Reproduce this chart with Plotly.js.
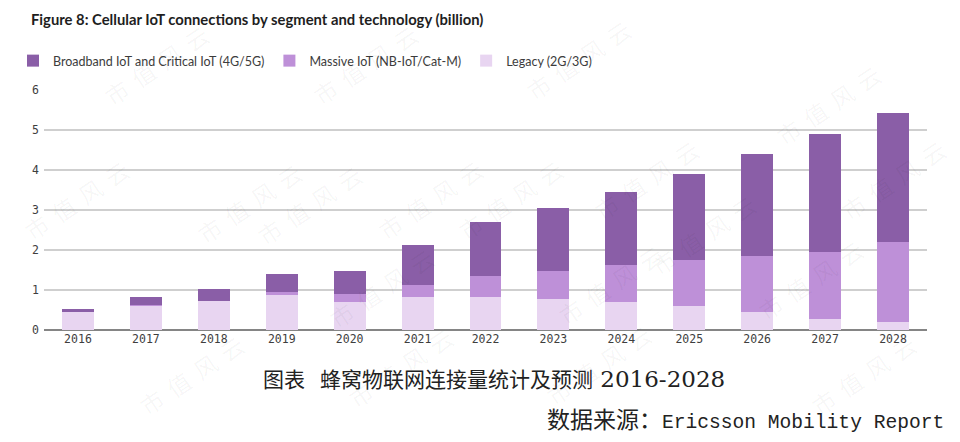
<!DOCTYPE html>
<html>
<head>
<meta charset="utf-8">
<script src="https://cdn.plot.ly/plotly-3.0.1.min.js"></script>
<style>
  html, body { margin: 0; padding: 0; background: #ffffff; }
  #chart { width: 960px; height: 442px; }
</style>
</head>
<body>
<div id="chart"></div>
<script>
// ---- Data (billion connections) ----
const years = ['2016','2017','2018','2019','2020','2021','2022','2023','2024','2025','2026','2027','2028'];
const legacy = [0.44, 0.61, 0.72, 0.88, 0.69, 0.82, 0.83, 0.78, 0.70, 0.59, 0.44, 0.28, 0.20];
const massiveIoT = [0.01, 0.01, 0.01, 0.06, 0.21, 0.31, 0.51, 0.70, 0.93, 1.15, 1.41, 1.68, 2.00];
const broadbandCritical = [0.08, 0.21, 0.30, 0.46, 0.58, 0.99, 1.37, 1.58, 1.82, 2.17, 2.54, 2.94, 3.23];
const seriesNames = ['Legacy (2G/3G)', 'Massive IoT (NB-IoT/Cat-M)', 'Broadband IoT and Critical IoT (4G/5G)'];
const yTicks = [0, 1, 2, 3, 4, 5, 6];
const chartTitle = 'Figure 8: Cellular IoT connections by segment and technology (billion)';
const captionLead = '图表';
const captionCn = '蜂窝物联网连接量统计及预测';
const captionYears = '2016-2028';
const sourceCn = '数据来源：';
const sourceEn = 'Ericsson Mobility Report';
const watermarkChars = ['市', '值', '风', '云'];

const colors = ['#e8d5f1', '#be90d8', '#8a5ea7'];
const seriesValues = [legacy, massiveIoT, broadbandCritical];

const traces = seriesValues.map((vals, i) => ({
  type: 'bar',
  name: seriesNames[i],
  x: years,
  y: vals,
  marker: { color: colors[i], line: { width: 0 } },
  hoverinfo: 'x+y+name'
}));

const W = 960, H = 442;
const PL = 44, PW = 883, PB = 330, PH = 240;
const px = v => (v - PL) / PW;
const py = v => (PB - v) / PH;

// faint watermark centres (pixels)
const wmPos = [
  [95, 15], [365, 15], [640, 10], [890, 55],
  [188, 153], [430, 150], [708, 130], [955, 130],
  [15, 250], [248, 255], [510, 250], [765, 235],
  [320, 338], [610, 335], [872, 330],
  [130, 425], [400, 418], [660, 415], [925, 425]
];
const wmText = watermarkChars.join('<span style="font-size:9px">\u3000</span>');
const annotations = wmPos.map(p => ({
  xref: 'paper', yref: 'paper',
  x: px(p[0]), y: py(p[1]),
  text: wmText, showarrow: false, textangle: -34,
  font: { family: 'Noto Sans CJK SC', size: 23, color: 'rgba(0,0,0,0.045)' }
}));

annotations.push({
  xref: 'paper', yref: 'paper',
  x: px(261), y: py(378),
  xanchor: 'left', yanchor: 'middle', showarrow: false,
  text: captionLead + '<span style="font-size:15px">\u3000</span>' + captionCn +
        '<span style="font-family:DejaVu Serif;font-size:23px"> ' + captionYears + '</span>',
  font: { family: 'Noto Sans CJK SC', size: 21, color: '#222222' }
});
annotations.push({
  xref: 'paper', yref: 'paper',
  x: px(946), y: py(418),
  xanchor: 'right', yanchor: 'middle', showarrow: false,
  text: sourceCn + '<span style="font-family:Liberation Mono;font-size:19.6px">' + sourceEn + '</span>',
  font: { family: 'Noto Sans CJK SC', size: 23, color: '#222222' }
});

const layout = {
  width: W, height: H,
  paper_bgcolor: '#ffffff', plot_bgcolor: '#ffffff',
  margin: { l: PL, r: W - PL - PW, t: PB - PH, b: H - PB, pad: 0 },
  barmode: 'stack',
  bargap: 0.53,
  showlegend: true,
  title: {
    text: '<b>' + chartTitle + '</b>',
    x: 31 / W, xanchor: 'left', xref: 'container',
    y: 1 - 20 / H, yanchor: 'middle', yref: 'container',
    font: { family: 'Lato', size: 14.8, color: '#1e1e1e' }
  },
  legend: {
    orientation: 'h', traceorder: 'reversed',
    xref: 'container', yref: 'container',
    x: 13 / W, xanchor: 'left',
    y: 1 - 61 / H, yanchor: 'middle',
    font: { family: 'Lato', size: 12.5, color: '#3c3c3c' },
    bgcolor: 'rgba(0,0,0,0)'
  },
  xaxis: {
    type: 'category',
    range: [-0.5, 12.5],
    showgrid: false, zeroline: false,
    showline: false,
    ticks: '',
    tickfont: { family: 'DejaVu Sans Mono', size: 11.5, color: '#3e3e3e' },
    fixedrange: true
  },
  yaxis: {
    range: [0, 6],
    tickvals: yTicks,
    showgrid: true, gridcolor: '#cfcfcf', gridwidth: 1.5,
    zeroline: true, zerolinecolor: '#858585', zerolinewidth: 2,
    showline: false, ticks: '',
    ticklabelstandoff: 4,
    tickfont: { family: 'DejaVu Sans Mono', size: 11.5, color: '#3e3e3e' },
    fixedrange: true
  },
  annotations: annotations
};

Plotly.newPlot('chart', traces, layout, { displayModeBar: false, staticPlot: true });
</script>
</body>
</html>
